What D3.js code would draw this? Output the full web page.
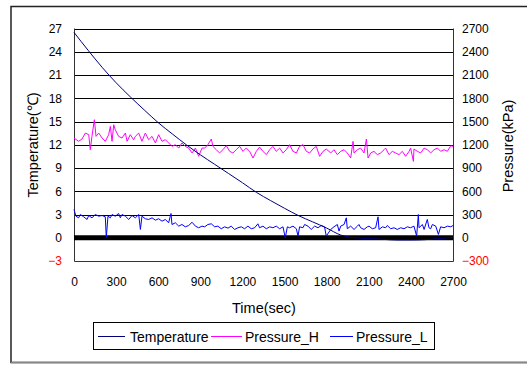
<!DOCTYPE html>
<html>
<head>
<meta charset="utf-8">
<script src="https://cdn.jsdelivr.net/npm/d3@7"></script>
<style>
  body { margin: 0; background: #fff; }
  svg { display: block; font-family: "Liberation Sans", Arial, sans-serif; }
</style>
</head>
<body>
<svg id="chart"></svg>
<script>
// ---- data ----
const xTicks = [0, 300, 600, 900, 1200, 1500, 1800, 2100, 2400, 2700];
const tempTicks = [-3, 0, 3, 6, 9, 12, 15, 18, 21, 24, 27];
const pressTicks = [-300, 0, 300, 600, 900, 1200, 1500, 1800, 2100, 2400, 2700];

const tempTime = [0, 100, 200, 300, 400, 500, 600, 700, 800, 900, 1000, 1100, 1200, 1300,
  1400, 1500, 1600, 1700, 1800, 1900, 2000, 2100, 2200, 2300, 2400, 2500, 2600, 2700];
const temperature = [26.5, 24.2, 22.0, 20.0, 18.2, 16.5, 14.85, 13.4, 12.0, 10.7, 9.5, 8.3, 7.1, 5.85,
  4.8, 3.8, 2.85, 2.05, 1.25, 0.35, 0.0, -0.1, -0.2, -0.3, -0.3, -0.25, -0.1, 0.05];

const pressHTime = [0, 33, 57, 81, 105, 116, 128, 145, 157, 176, 200, 223, 247, 259, 271, 283, 294, 318, 342, 366,
  378, 401, 425, 437, 461, 484, 508, 532, 556, 580, 603, 627, 651, 674, 698, 722, 746, 769, 793, 817,
  841, 865, 888, 912,
  931, 954, 978, 990, 1014, 1037, 1061, 1085, 1109, 1132, 1156, 1180, 1204, 1227, 1251, 1275, 1299, 1322, 1346, 1370,
  1394, 1417, 1441, 1465, 1489, 1512, 1536, 1560, 1584, 1607, 1631, 1655, 1679, 1702, 1726, 1750, 1774, 1797,
  1829, 1852, 1876, 1900, 1924, 1947, 1971, 1988, 1995, 2019, 2042, 2066, 2083, 2095, 2114, 2137, 2161, 2185, 2209, 2220,
  2244, 2268, 2292, 2315, 2339, 2363, 2387, 2398, 2418, 2422, 2446, 2470, 2494, 2517, 2541, 2565, 2589, 2612, 2636, 2660,
  2684, 2700];
const pressureH = [1287, 1244, 1274, 1351, 1330, 1136, 1308, 1523, 1308, 1351, 1287, 1244, 1330, 1437, 1244, 1458, 1394, 1308, 1287, 1351,
  1244, 1330, 1265, 1308, 1351, 1244, 1351, 1265, 1308, 1223, 1330, 1244, 1265, 1223, 1179, 1201, 1157, 1223, 1179, 1157,
  1094, 1157, 1051, 1157,
  1157, 1201, 1274, 1179, 1136, 1094, 1136, 1188, 1115, 1094, 1136, 1179, 1115, 1157, 1115, 1029, 1115, 1170, 1115, 1072,
  1136, 1179, 1115, 1157, 1094, 1136, 1201, 1115, 1094, 1179, 1201, 1115, 1094, 1145, 1179, 1051, 1115, 1145,
  1094, 1136, 1072, 1115, 1136, 1094, 1029, 1244, 1094, 1136, 1157, 1094, 1274, 1029, 1094, 1115, 1072, 1094, 1136, 1157,
  1072, 1115, 1094, 1072, 1115, 1051, 1115, 1157, 986, 1145, 1115, 1094, 1157, 1136, 1094, 1136, 1157, 1115, 1136, 1115,
  1188, 1179];

const pressLTime = [0, 14, 33, 45, 69, 93, 105, 128, 152, 176, 200, 223, 230, 242, 259, 271, 294, 318, 330, 342,
  366, 390, 413, 437, 461, 473, 484, 508, 532, 556, 580, 603, 627, 651, 674, 691, 698, 722, 746, 769,
  793, 817, 841, 865, 888, 912,
  931, 954, 978, 1002, 1025, 1049, 1073, 1097, 1120, 1144, 1168, 1192, 1215, 1239, 1263, 1287, 1310, 1322, 1346, 1370,
  1394, 1417, 1441, 1465, 1489, 1505, 1520, 1536, 1560, 1584, 1596, 1607, 1631, 1643, 1667, 1690, 1714, 1738, 1762, 1785,
  1797,
  1829, 1852, 1876, 1888, 1900, 1924, 1940, 1947, 1971, 1995, 2019, 2030, 2042, 2066, 2090, 2102, 2125, 2149, 2166, 2173,
  2197, 2220, 2232, 2256, 2280, 2303, 2327, 2351, 2375, 2398, 2422, 2441, 2453, 2458, 2482, 2494, 2517, 2529, 2541, 2553,
  2577, 2596, 2612, 2636, 2660, 2684, 2700];
const pressureL = [364, 278, 257, 300, 270, 236, 287, 257, 300, 278, 287, 270, 0, 278, 257, 300, 278, 313, 257, 300,
  278, 236, 287, 257, 300, 107, 278, 245, 236, 257, 227, 245, 214, 236, 193, 313, 171, 193, 150, 171,
  141, 158, 200, 150, 129, 150,
  141, 171, 180, 141, 150, 116, 141, 124, 150, 107, 129, 141, 116, 150, 116, 129, 180, 129, 150, 116,
  141, 129, 150, 116, 141, 0, 141, 129, 150, 116, 21, 141, 129, 171, 150, 107, 150, 129, 158, 141,
  21,
  107, 141, 171, 86, 150, 171, 257, 116, 150, 107, 150, 171, 129, 107, 141, 150, 116, 129, 270, 107,
  141, 129, 158, 116, 129, 107, 129, 116, 141, 129, 150, 21, 300, 129, 171, 107, 236, 129, 116, 171,
  150, 43, 141, 129, 150, 141, 158];

// black band lying on 0 kPa
const zeroTime = [0, 2700];
const zeroPressure = [0, 0];

const seriesNames = ['Temperature', 'Pressure_H', 'Pressure_L'];

// ---- layout ----
const svgWidth = 527;
const svgHeight = 365;
const plot = { left: 74, right: 453, top: 28.5, bottom: 261 };

const svg = d3.select('#chart')
  .attr('width', svgWidth)
  .attr('height', svgHeight);

// chart area frame (right edge runs off the picture)
svg.append('path')
  .attr('d', `M700,6.5 H11 V362.5 H700`)
  .attr('fill', 'none')
  .attr('stroke', '#222')
  .attr('stroke-width', 1.5);
svg.append('line')
  .attr('x1', 11).attr('x2', 527).attr('y1', 362.5).attr('y2', 362.5)
  .attr('stroke', '#888').attr('stroke-width', 1.5);

const xScale = d3.scaleLinear().domain([0, 2700]).range([plot.left, plot.right]);
const yTemp = d3.scaleLinear().domain([-3, 27]).range([plot.bottom, plot.top]);
const yPress = d3.scaleLinear().domain([-300, 2700]).range([plot.bottom, plot.top]);

// gridlines
svg.append('g')
  .selectAll('line')
  .data(tempTicks.filter(d => d > -3))
  .enter()
  .append('line')
    .attr('x1', plot.left)
    .attr('x2', plot.right)
    .attr('y1', d => Math.round(yTemp(d)) + 0.5)
    .attr('y2', d => Math.round(yTemp(d)) + 0.5)
    .attr('stroke', '#000')
    .attr('stroke-width', 1);

// axes
const plain = d3.format('d');
const xAxis = d3.axisBottom(xScale).tickValues(xTicks).tickFormat(plain).tickSize(0).tickPadding(16);
const yAxisLeft = d3.axisLeft(yTemp).tickValues(tempTicks).tickFormat(plain).tickSize(0).tickPadding(12);
const yAxisRight = d3.axisRight(yPress).tickValues(pressTicks).tickFormat(plain).tickSize(0).tickPadding(9);

function styleAxis(g) {
  g.select('.domain').remove();
  g.selectAll('text')
    .attr('font-size', '12px')
    .attr('font-family', '"Liberation Sans", Arial, sans-serif')
    .attr('fill', d => d < 0 ? '#ff0000' : '#000');
}

svg.append('g')
  .attr('transform', `translate(0, ${plot.bottom})`)
  .call(xAxis)
  .call(styleAxis);

svg.append('g')
  .attr('transform', `translate(${plot.left}, 0)`)
  .call(yAxisLeft)
  .call(styleAxis);

svg.append('g')
  .attr('transform', `translate(${plot.right}, 0)`)
  .call(yAxisRight)
  .call(styleAxis);

// axis lines
svg.append('path')
  .attr('d', `M${plot.left + 0.5},${plot.top} V${plot.bottom + 0.5} H${plot.right + 0.5} V${plot.top}`)
  .attr('fill', 'none')
  .attr('stroke', '#333')
  .attr('stroke-width', 1);

// axis titles
svg.append('text')
  .attr('x', 264)
  .attr('y', 313)
  .attr('text-anchor', 'middle')
  .attr('font-size', '14.5px')
  .text('Time(sec)');

svg.append('text')
  .attr('transform', 'translate(38, 145) rotate(-90)')
  .attr('text-anchor', 'middle')
  .attr('font-size', '14.5px')
  .text('Temperature(℃)');

svg.append('text')
  .attr('transform', 'translate(513, 146) rotate(-90)')
  .attr('text-anchor', 'middle')
  .attr('font-size', '14.5px')
  .text('Pressure(kPa)');

// series
const zeroLine = d3.line()
  .x((d, i) => xScale(zeroTime[i]))
  .y(d => yPress(d));
svg.append('path')
  .datum(zeroPressure)
  .attr('d', zeroLine)
  .attr('fill', 'none')
  .attr('stroke', '#000')
  .attr('stroke-width', 5);

const lineH = d3.line()
  .x((d, i) => xScale(pressHTime[i]))
  .y(d => yPress(d));
svg.append('path')
  .datum(pressureH)
  .attr('d', lineH)
  .attr('fill', 'none')
  .attr('stroke', '#ff00ff')
  .attr('stroke-width', 1);

const lineL = d3.line()
  .x((d, i) => xScale(pressLTime[i]))
  .y(d => yPress(d));
svg.append('path')
  .datum(pressureL)
  .attr('d', lineL)
  .attr('fill', 'none')
  .attr('stroke', '#0000ff')
  .attr('stroke-width', 1);

const lineT = d3.line()
  .curve(d3.curveMonotoneX)
  .x((d, i) => xScale(tempTime[i]))
  .y(d => yTemp(d));
svg.append('path')
  .datum(temperature)
  .attr('d', lineT)
  .attr('fill', 'none')
  .attr('stroke', '#000080')
  .attr('stroke-width', 1);

// legend
const legendColors = ['#000080', '#ff00ff', '#0000ff'];
const legendLine = [[98, 125], [211, 242], [330, 353]];
const legendText = [130, 245, 356];
const legend = svg.append('g');
legend.append('rect')
  .attr('x', 93.5).attr('y', 322.5)
  .attr('width', 341).attr('height', 27)
  .attr('fill', '#fff')
  .attr('stroke', '#000');

const items = legend.selectAll('.item')
  .data(seriesNames)
  .enter()
  .append('g')
    .attr('class', 'item');
items.append('line')
  .attr('x1', (d, i) => legendLine[i][0])
  .attr('x2', (d, i) => legendLine[i][1])
  .attr('y1', 336.5)
  .attr('y2', 336.5)
  .attr('stroke', (d, i) => legendColors[i])
  .attr('stroke-width', 1);
items.append('text')
  .attr('x', (d, i) => legendText[i])
  .attr('y', 341.5)
  .attr('font-size', '14px')
  .text(d => d);
</script>
</body>
</html>
